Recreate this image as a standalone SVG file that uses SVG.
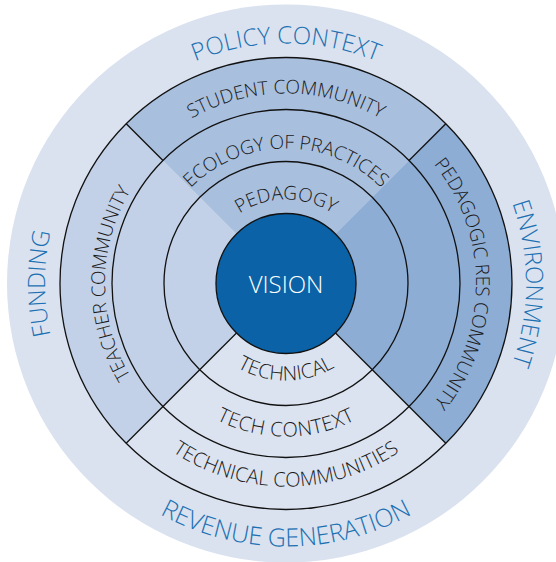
<svg xmlns="http://www.w3.org/2000/svg" width="556" height="562" viewBox="0 0 556 562">
<style>
.ln{fill:none;stroke:#111;stroke-width:1.3}
.outer{font-family:"Open Sans","Noto Sans",sans-serif;font-size:24px;fill:#1c71b3;font-weight:350}
.inner{font-family:"Open Sans","Noto Sans",sans-serif;font-size:19px;fill:#1a1a1a;font-weight:350}
.big{font-size:20px}
.vis{font-family:"Open Sans","Noto Sans",sans-serif;font-size:24px;fill:#ffffff;font-weight:300}
</style>
<defs>
<path id="cwTop240" d="M286,523.5 A240,240 0 0 1 286,43.5 A240,240 0 0 1 286,523.5"/>
<path id="cwLeft241" d="M527,283.5 A241,241 0 0 1 45,283.5 A241,241 0 0 1 527,283.5"/>
<path id="cwRight240" d="M46,283.5 A240,240 0 0 1 526,283.5 A240,240 0 0 1 46,283.5"/>
<path id="ccwBot263" d="M286,20.5 A263,263 0 0 0 286,546.5 A263,263 0 0 0 286,20.5"/>
<path id="cwTop190" d="M286,473.5 A190,190 0 0 1 286,93.5 A190,190 0 0 1 286,473.5"/>
<path id="cwTop135" d="M286,418.5 A135,135 0 0 1 286,148.5 A135,135 0 0 1 286,418.5"/>
<path id="cwTop84" d="M286,367.5 A84,84 0 0 1 286,199.5 A84,84 0 0 1 286,367.5"/>
<path id="cwLeft181" d="M467,283.5 A181,181 0 0 1 105,283.5 A181,181 0 0 1 467,283.5"/>
<path id="cwRight190" d="M96,283.5 A190,190 0 0 1 476,283.5 A190,190 0 0 1 96,283.5"/>
<path id="ccwBot97" d="M286,186.5 A97,97 0 0 0 286,380.5 A97,97 0 0 0 286,186.5"/>
<path id="ccwBot153" d="M286,130.5 A153,153 0 0 0 286,436.5 A153,153 0 0 0 286,130.5"/>
<path id="ccwBot203" d="M286,80.5 A203,203 0 0 0 286,486.5 A203,203 0 0 0 286,80.5"/>
</defs>

<g id="context-ring">
<circle cx="286" cy="283.5" r="279" fill="#dae2ef"/>
<text class="outer" text-anchor="middle"><textPath href="#cwTop240" startOffset="50%">POLICY CONTEXT</textPath></text>
<text class="outer" text-anchor="middle"><textPath href="#cwLeft241" startOffset="50%">FUNDING</textPath></text>
<text class="outer" text-anchor="middle"><textPath href="#cwRight240" startOffset="50%">ENVIRONMENT</textPath></text>
<text class="outer" text-anchor="middle" style="font-size:25px"><textPath href="#ccwBot263" startOffset="50%">REVENUE GENERATION</textPath></text>
</g>

<g id="sectors">
<path id="sector-top" d="M286,283.5 L126.2,123.7 A226,226 0 0 1 445.8,123.7 Z" fill="#a8bfde"/>
<path id="sector-right" d="M286,283.5 L445.8,123.7 A226,226 0 0 1 445.8,443.3 Z" fill="#8dadd4"/>
<path id="sector-bottom" d="M286,283.5 L445.8,443.3 A226,226 0 0 1 126.2,443.3 Z" fill="#dbe3f0"/>
<path id="sector-left" d="M286,283.5 L126.2,443.3 A226,226 0 0 1 126.2,123.7 Z" fill="#c2d1e7"/>
</g>

<g id="rings">
<circle class="ln" cx="286" cy="283.5" r="226"/>
<circle class="ln" cx="286" cy="283.5" r="174"/>
<circle class="ln" cx="286" cy="283.5" r="122"/>
</g>

<g id="connectors">
<line class="ln" x1="163" y1="160.5" x2="126.2" y2="123.7"/>
<line class="ln" x1="409" y1="160.5" x2="445.8" y2="123.7"/>
<line class="ln" x1="236.5" y1="333" x2="126.2" y2="443.3"/>
<line class="ln" x1="335.5" y1="333" x2="445.8" y2="443.3"/>
</g>

<g id="student-community"><text class="inner" text-anchor="middle"><textPath href="#cwTop190" startOffset="50%">STUDENT COMMUNITY</textPath></text></g>
<g id="ecology-of-practices"><text class="inner" text-anchor="middle"><textPath href="#cwTop135" startOffset="50%">ECOLOGY OF PRACTICES</textPath></text></g>
<g id="pedagogy"><text class="inner" text-anchor="middle"><textPath href="#cwTop84" startOffset="50%">PEDAGOGY</textPath></text></g>
<g id="teacher-community"><text class="inner" text-anchor="middle"><textPath href="#cwLeft181" startOffset="50%">TEACHER COMMUNITY</textPath></text></g>
<g id="pedagogic-res-community"><text class="inner" text-anchor="middle"><textPath href="#cwRight190" startOffset="50%">PEDAGOGIC RES COMMUNITY</textPath></text></g>
<g id="technical"><text class="inner big" text-anchor="middle"><textPath href="#ccwBot97" startOffset="50%">TECHNICAL</textPath></text></g>
<g id="tech-context"><text class="inner big" text-anchor="middle" letter-spacing="0.5"><textPath href="#ccwBot153" startOffset="50%">TECH CONTEXT</textPath></text></g>
<g id="technical-communities"><text class="inner big" text-anchor="middle"><textPath href="#ccwBot203" startOffset="50%">TECHNICAL COMMUNITIES</textPath></text></g>

<g id="vision">
<circle cx="286" cy="283.5" r="70" fill="#0b62a6" stroke="#111" stroke-width="1.3"/>
<text class="vis" x="286" y="292.5" text-anchor="middle">VISION</text>
</g>
</svg>
